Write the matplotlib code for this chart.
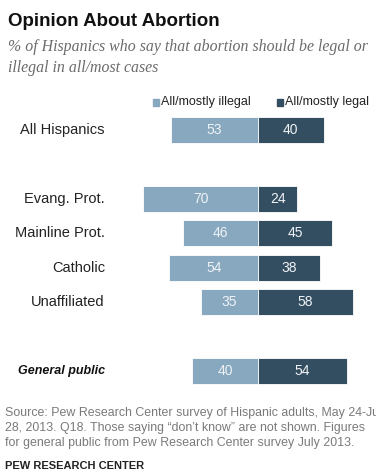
import matplotlib.pyplot as plt
from matplotlib.patches import Rectangle

# Hispanic opinion on abortion, by religion
groups = ["All Hispanics", "Evang. Prot.", "Mainline Prot.", "Catholic", "Unaffiliated", "General public"]
illegal = [53, 70, 46, 54, 35, 40]
legal = [40, 24, 45, 38, 58, 54]
rows = [0, 2, 3, 4, 5, 7]

light = "#87a8bf"
dark = "#344e61"
sans = ["Liberation Sans", "DejaVu Sans"]
serif = ["Liberation Serif", "DejaVu Serif"]

fig = plt.figure(figsize=(3.76, 4.76), dpi=100)
W, H = 376, 476

# axes covers the chart band; 0 sits at x=258px, 1.64 px per point, 34.4 px per row
ax = fig.add_axes([0, 1 - 395 / H, 1, (395 - 105) / H])
ax.set_xlim(-258 / 1.64, (W - 258) / 1.64)
ax.set_ylim((395 - 130) / 34.4, (105 - 130) / 34.4)
ax.axis("off")

ax.barh(rows, [-v for v in illegal], height=0.76, color=light, edgecolor="white", linewidth=0.6)
ax.barh(rows, legal, height=0.76, color=dark, edgecolor="white", linewidth=0.6)

label_x = (105 - 258) / 1.64
for r, g, a, b in zip(rows, groups, illegal, legal):
    ax.text(-a / 2, r, str(a), ha="center", va="center", color="#eef2f5", fontsize=10, family=sans)
    ax.text(b / 2, r, str(b), ha="center", va="center", color="#eef2f5", fontsize=10, family=sans)
    if g == "General public":
        ax.text(label_x, r, g, ha="right", va="center", fontsize=9, family=sans,
                style="italic", weight="bold", color="#111111")
    else:
        ax.text(label_x, r, g, ha="right", va="center", fontsize=10.5, family=sans, color="#222222")

# title and subtitle
fig.text(8 / W, 1 - 21 / H, "Opinion About Abortion", fontsize=13.5, weight="bold",
         family=sans, va="center", color="#111111")
fig.text(8 / W, 1 - 47 / H, "% of Hispanics who say that abortion should be legal or",
         fontsize=11.4, style="italic", family=serif, va="center", color="#6b6b6b")
fig.text(8 / W, 1 - 68 / H, "illegal in all/most cases",
         fontsize=11.4, style="italic", family=serif, va="center", color="#6b6b6b")

# legend
for x0, col, txt in [(153, light, "All/mostly illegal"), (277, dark, "All/mostly legal")]:
    fig.patches.append(Rectangle((x0 / W, 1 - 106 / H), 6 / W, 7 / H, color=col,
                                 transform=fig.transFigure))
    fig.text((x0 + 8) / W, 1 - 102.5 / H, txt, fontsize=9, family=sans, va="center", color="#222222")

# source notes
notes = ["Source: Pew Research Center survey of Hispanic adults, May 24-July",
         "28, 2013. Q18. Those saying \u201cdon\u2019t know\u201d are not shown. Figures",
         "for general public from Pew Research Center survey July 2013."]
for i, line in enumerate(notes):
    fig.text(5 / W, 1 - (413 + 15 * i) / H, line, fontsize=8.9, family=sans, va="center", color="#7a7a7a")
fig.text(5 / W, 1 - 466 / H, "PEW RESEARCH CENTER", fontsize=8, weight="bold",
         family=sans, va="center", color="#222222")

fig.savefig("out.png", dpi=100)
